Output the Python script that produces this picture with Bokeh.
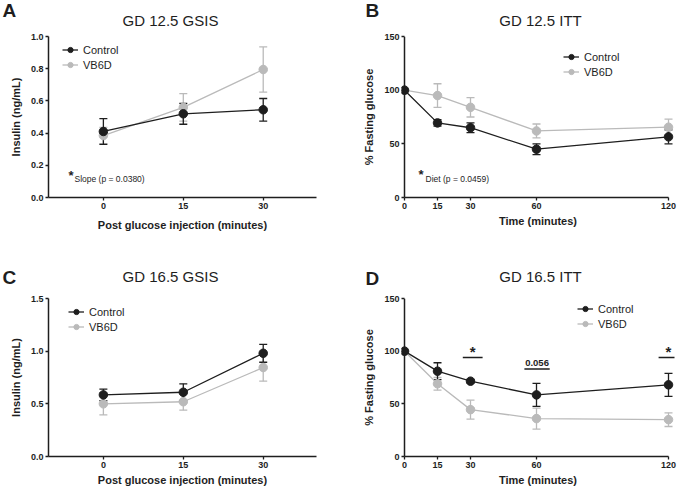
from bokeh.plotting import figure
from bokeh.models import (Range1d, FixedTicker, NumeralTickFormatter, Whisker, TeeHead,
                          ColumnDataSource, Legend, LegendItem, Label, Span)
from bokeh.layouts import column, row
from bokeh.embed import file_html
from bokeh.resources import INLINE
from bokeh.core.properties import value

FONT = "Liberation Sans"
BLACK = "#1e1e1e"
GRAY = "#bababa"

# ---------------- data ----------------
gsis_time = [0, 15, 30]
itt_time = [0, 15, 30, 60, 120]

a_ctrl = [0.41, 0.52, 0.545]
a_ctrl_err = [0.08, 0.065, 0.07]
a_vb6d = [0.385, 0.56, 0.795]
a_vb6d_err = [0.05, 0.085, 0.14]

b_ctrl = [100, 69.5, 65, 45, 56.5]
b_ctrl_err = [0, 3, 4.5, 5, 6.5]
b_vb6d = [100, 95, 84, 62, 65.5]
b_vb6d_err = [0, 11, 9, 6.5, 7.5]

c_ctrl = [0.585, 0.61, 0.98]
c_ctrl_err = [0.055, 0.08, 0.085]
c_vb6d = [0.50, 0.52, 0.845]
c_vb6d_err = [0.105, 0.08, 0.13]

d_ctrl = [100, 81, 71.5, 58.5, 68]
d_ctrl_err = [0, 8, 1.5, 11, 11]
d_vb6d = [100, 69, 44.5, 36, 35]
d_vb6d_err = [0, 6, 9, 10, 6.5]

d_sig_x0 = [26.5, 54.5, 115.5]
d_sig_x1 = [35.5, 66, 125]
d_sig_y = [94, 83, 94]
d_sig_x = [31, 60.25, 120]
d_sig_text = ["*", "0.056", "*"]

series_names = ["Control", "VB6D"]
panel_letters = ["A", "B", "C", "D"]
panel_titles = ["GD 12.5 GSIS", "GD 12.5 ITT", "GD 16.5 GSIS", "GD 16.5 ITT"]
gsis_ticks_y_a = [0.0, 0.2, 0.4, 0.6, 0.8, 1.0]
gsis_ticks_y_c = [0.0, 0.5, 1.0, 1.5]
itt_ticks_y = [0, 50, 100, 150]


def make_header(w, h, letters, letter_pos, titles, title_pos):
    p = figure(width=w, height=h, x_range=Range1d(0, 1), y_range=Range1d(0, 1),
               x_axis_type=None, y_axis_type=None, output_backend="svg", toolbar_location=None,
               min_border=0)
    p.title.visible = False
    p.outline_line_color = None
    p.grid.visible = False
    for letter, (lx, ly) in zip(letters, letter_pos):
        p.add_layout(Label(x=lx, y=ly, x_units="screen", y_units="screen", text=letter,
                           text_font=FONT, text_font_size="19px", text_font_style="bold",
                           text_color=BLACK, text_align="left", text_baseline="middle"))
    for title, (tx, ty) in zip(titles, title_pos):
        p.add_layout(Label(x=tx, y=ty, x_units="screen", y_units="screen", text=title,
                           text_font=FONT, text_font_size="15px", text_color=BLACK,
                           text_align="center", text_baseline="middle"))
    return p


def make_panel(w, h, bl, br, bt, bb, xr, yr, xticks, yticks, yfmt, xlabel, ylabel, itt,
               xlabel_standoff=3):
    p = figure(width=w, height=h, x_range=Range1d(*xr), y_range=Range1d(*yr),
               output_backend="svg", toolbar_location=None,
               min_border_left=bl, min_border_right=br, min_border_top=bt, min_border_bottom=bb)
    p.title.visible = False
    p.outline_line_color = None
    p.grid.grid_line_color = None
    for ax in (p.xaxis[0], p.yaxis[0]):
        ax.major_label_text_font = FONT
        ax.major_label_text_font_style = "bold"
        ax.major_label_text_font_size = "9px"
        ax.major_label_text_color = BLACK
        ax.axis_label_text_font = FONT
        ax.axis_label_text_font_style = "bold"
        ax.axis_label_text_font_size = "11px"
        ax.axis_label_text_color = BLACK
        ax.axis_line_color = BLACK
        ax.axis_line_width = 1.5
        ax.major_tick_line_color = BLACK
        ax.major_tick_line_width = 1.3
        ax.minor_tick_line_color = None
        ax.major_label_standoff = 2
    p.xaxis.ticker = FixedTicker(ticks=xticks)
    p.yaxis.ticker = FixedTicker(ticks=yticks)
    p.yaxis.formatter = NumeralTickFormatter(format=yfmt)
    p.xaxis.axis_label = xlabel
    p.yaxis.axis_label = ylabel
    p.xaxis.axis_label_standoff = xlabel_standoff
    p.yaxis.axis_label_standoff = 6
    p.xaxis.major_tick_out = 3
    p.xaxis.major_tick_in = 0
    if itt:
        p.xaxis.bounds = (0, 120)
        p.yaxis.axis_line_color = None
        p.yaxis.major_tick_out = 0
        p.yaxis.major_tick_in = 3
        p.add_layout(Span(location=0, dimension="height", line_color=BLACK, line_width=1.5))
    else:
        p.yaxis.major_tick_out = 3
        p.yaxis.major_tick_in = 0
    return p


def add_series(p, x, y, err, color):
    up = [v + e for v, e in zip(y, err) if e > 0]
    lo = [v - e for v, e in zip(y, err) if e > 0]
    xe = [t for t, e in zip(x, err) if e > 0]
    src = ColumnDataSource(dict(x=xe, upper=up, lower=lo))
    p.add_layout(Whisker(source=src, base="x", upper="upper", lower="lower", dimension="height",
                         line_color=color, line_width=1.3,
                         upper_head=TeeHead(size=8, line_color=color, line_width=1.3),
                         lower_head=TeeHead(size=8, line_color=color, line_width=1.3)))
    lr = p.line(x, y, line_color=color, line_width=1.3)
    sr = p.scatter(x, y, size=8.5, fill_color=color, line_color=color)
    return [lr, sr]


def add_legend(p, rc, rv, x, y):
    leg = Legend(items=[LegendItem(label=series_names[0], renderers=rc),
                        LegendItem(label=series_names[1], renderers=rv)],
                 location=(x, y), orientation="vertical",
                 label_text_font=FONT, label_text_font_size="11px", label_text_color=BLACK,
                 glyph_width=16, glyph_height=13, label_height=13, spacing=2, padding=0,
                 margin=0, label_standoff=5, border_line_color=None, background_fill_alpha=0)
    p.add_layout(leg)


def add_text(p, x, y, text, size, bold=False):
    p.add_layout(Label(x=x, y=y, x_units="screen", y_units="screen", text=text,
                       text_font=FONT, text_font_size=size,
                       text_font_style="bold" if bold else "normal",
                       text_color=BLACK, text_align="left", text_baseline="middle"))


# ---------------- headers (one strip per row) ----------------
hdr1 = make_header(677, 30, panel_letters[:2], [(2, 20), (365, 20)],
                   panel_titles[:2], [(170, 10), (540, 10)])
hdr2 = make_header(677, 42, panel_letters[2:], [(2, 13), (365, 12)],
                   panel_titles[2:], [(170, 14), (540, 14)])

# ---------------- A ----------------
pA = make_panel(342, 218, 48, 26, 6, 51, (-10.3, 40), (0, 1.0), gsis_time, gsis_ticks_y_a, "0.0",
                "Post glucose injection (minutes)", "Insulin (ng/mL)", False, xlabel_standoff=7)
rv = add_series(pA, gsis_time, a_vb6d, a_vb6d_err, GRAY)
rc = add_series(pA, gsis_time, a_ctrl, a_ctrl_err, BLACK)
add_legend(pA, rc, rv, 14, 126)
add_text(pA, 20, 22, "*", "13px", bold=True)
add_text(pA, 26, 19, "Slope (p = 0.0380)", "8.5px")

# ---------------- B ----------------
pB = make_panel(335, 218, 59, 3, 6, 51, (-1.364, 122.727), (0, 150), itt_time, itt_ticks_y, "0",
                "Time (minutes)", "% Fasting glucose", True)
rv = add_series(pB, itt_time, b_vb6d, b_vb6d_err, GRAY)
rc = add_series(pB, itt_time, b_ctrl, b_ctrl_err, BLACK)
add_legend(pB, rc, rv, 162, 119)
add_text(pB, 17, 23, "*", "13px", bold=True)
add_text(pB, 24, 19, "Diet (p = 0.0459)", "8.5px")

# ---------------- C ----------------
pC = make_panel(342, 198, 48, 26, 8, 32, (-10.3, 40), (0, 1.5), gsis_time, gsis_ticks_y_c, "0.0",
                "Post glucose injection (minutes)", "Insulin (ng/mL)", False)
rv = add_series(pC, gsis_time, c_vb6d, c_vb6d_err, GRAY)
rc = add_series(pC, gsis_time, c_ctrl, c_ctrl_err, BLACK)
add_legend(pC, rc, rv, 20, 123)

# ---------------- D ----------------
pD = make_panel(335, 198, 59, 3, 8, 32, (-1.364, 122.727), (0, 150), itt_time, itt_ticks_y, "0",
                "Time (minutes)", "% Fasting glucose", True)
rv = add_series(pD, itt_time, d_vb6d, d_vb6d_err, GRAY)
rc = add_series(pD, itt_time, d_ctrl, d_ctrl_err, BLACK)
add_legend(pD, rc, rv, 176, 126)
pD.segment(x0=d_sig_x0, y0=d_sig_y, x1=d_sig_x1, y1=d_sig_y, line_color=BLACK, line_width=1.5)
star_idx = [i for i, t in enumerate(d_sig_text) if t == "*"]
num_idx = [i for i, t in enumerate(d_sig_text) if t != "*"]
star_src = ColumnDataSource(dict(x=[d_sig_x[i] for i in star_idx], y=[d_sig_y[i] for i in star_idx],
                                 t=[d_sig_text[i] for i in star_idx]))
num_src = ColumnDataSource(dict(x=[d_sig_x[i] for i in num_idx], y=[d_sig_y[i] for i in num_idx],
                                t=[d_sig_text[i] for i in num_idx]))
pD.text(x="x", y="y", text="t", source=star_src, text_font=value(FONT), text_font_style="bold",
        text_font_size="15px", text_align="center", text_baseline="bottom", text_color=BLACK,
        y_offset=3)
pD.text(x="x", y="y", text="t", source=num_src, text_font=value(FONT), text_font_style="bold",
        text_font_size="9.5px", text_align="center", text_baseline="bottom", text_color=BLACK,
        y_offset=-3)

layout = column(hdr1, row(pA, pB), hdr2, row(pC, pD))
open("out.html", "w").write(file_html(layout, INLINE))
